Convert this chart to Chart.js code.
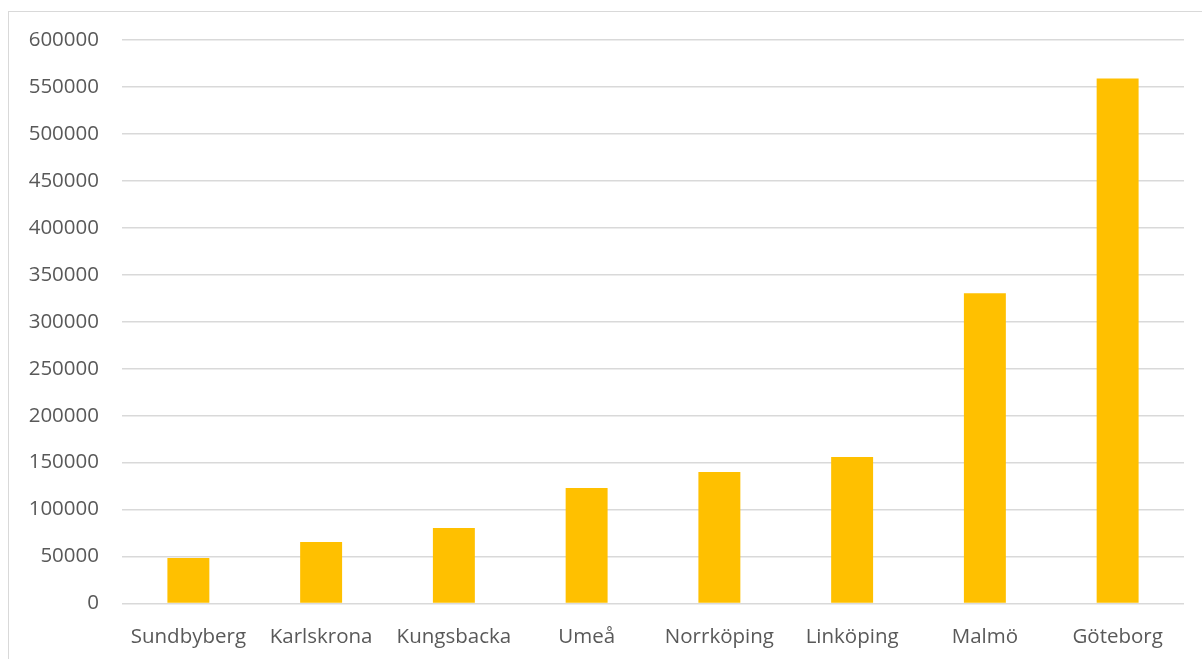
<!DOCTYPE html>
<html>
<head>
<meta charset="utf-8">
<script src="https://cdn.jsdelivr.net/npm/chart.js@4"></script>
<style>
  html, body { margin: 0; padding: 0; background: #fff; overflow: hidden; }
  #frame {
    position: absolute; left: 8px; top: 11px; width: 1300px; height: 800px;
    border-left: 1px solid #d9d9d9; border-top: 1px solid #d9d9d9;
  }
  #wrap { position: absolute; left: 0; top: 0; width: 1202px; height: 659px; }
</style>
</head>
<body>
<div id="frame"></div>
<div id="wrap"><canvas id="chart"></canvas></div>
<script>
const cities = ["Sundbyberg", "Karlskrona", "Kungsbacka", "Umeå", "Norrköping", "Linköping", "Malmö", "Göteborg"];
const population = [48400, 65400, 80300, 122900, 139900, 155900, 330300, 559000];
const yMax = 600000;
const yStep = 50000;

const textColor = "#595959";
const fontFamily = "'Open Sans', 'Noto Sans', sans-serif";

const ctx = document.getElementById("chart").getContext("2d");
new Chart(ctx, {
    type: "bar",
    data: {
        labels: cities,
        datasets: [{
            label: "Befolkning",
            data: population,
            backgroundColor: "#ffc000",
            borderWidth: 0,
            categoryPercentage: 1,
            barPercentage: 0.316
        }]
    },
    options: {
        responsive: true,
        maintainAspectRatio: false,
        animation: false,
        layout: { padding: { top: 40, right: 18, bottom: 0, left: 0 } },
        plugins: {
            legend: { display: false },
            tooltip: { enabled: false }
        },
        scales: {
            x: {
                grid: { display: false, drawTicks: false },
                border: { display: false },
                ticks: {
                    color: textColor,
                    padding: 21,
                    font: { family: fontFamily, size: 20.5 },
                    maxRotation: 0
                },
                afterFit(scale) { scale.height = 55.5; }
            },
            y: {
                min: 0,
                max: yMax,
                grid: { color: "#d9d9d9", lineWidth: 1.5, drawTicks: false },
                border: { display: false },
                ticks: {
                    stepSize: yStep,
                    color: textColor,
                    padding: 23,
                    font: { family: fontFamily, size: 20.5 },
                    callback: (v) => String(v)
                },
                afterFit(scale) { scale.width = 122; }
            }
        }
    }
});
</script>
</body>
</html>
